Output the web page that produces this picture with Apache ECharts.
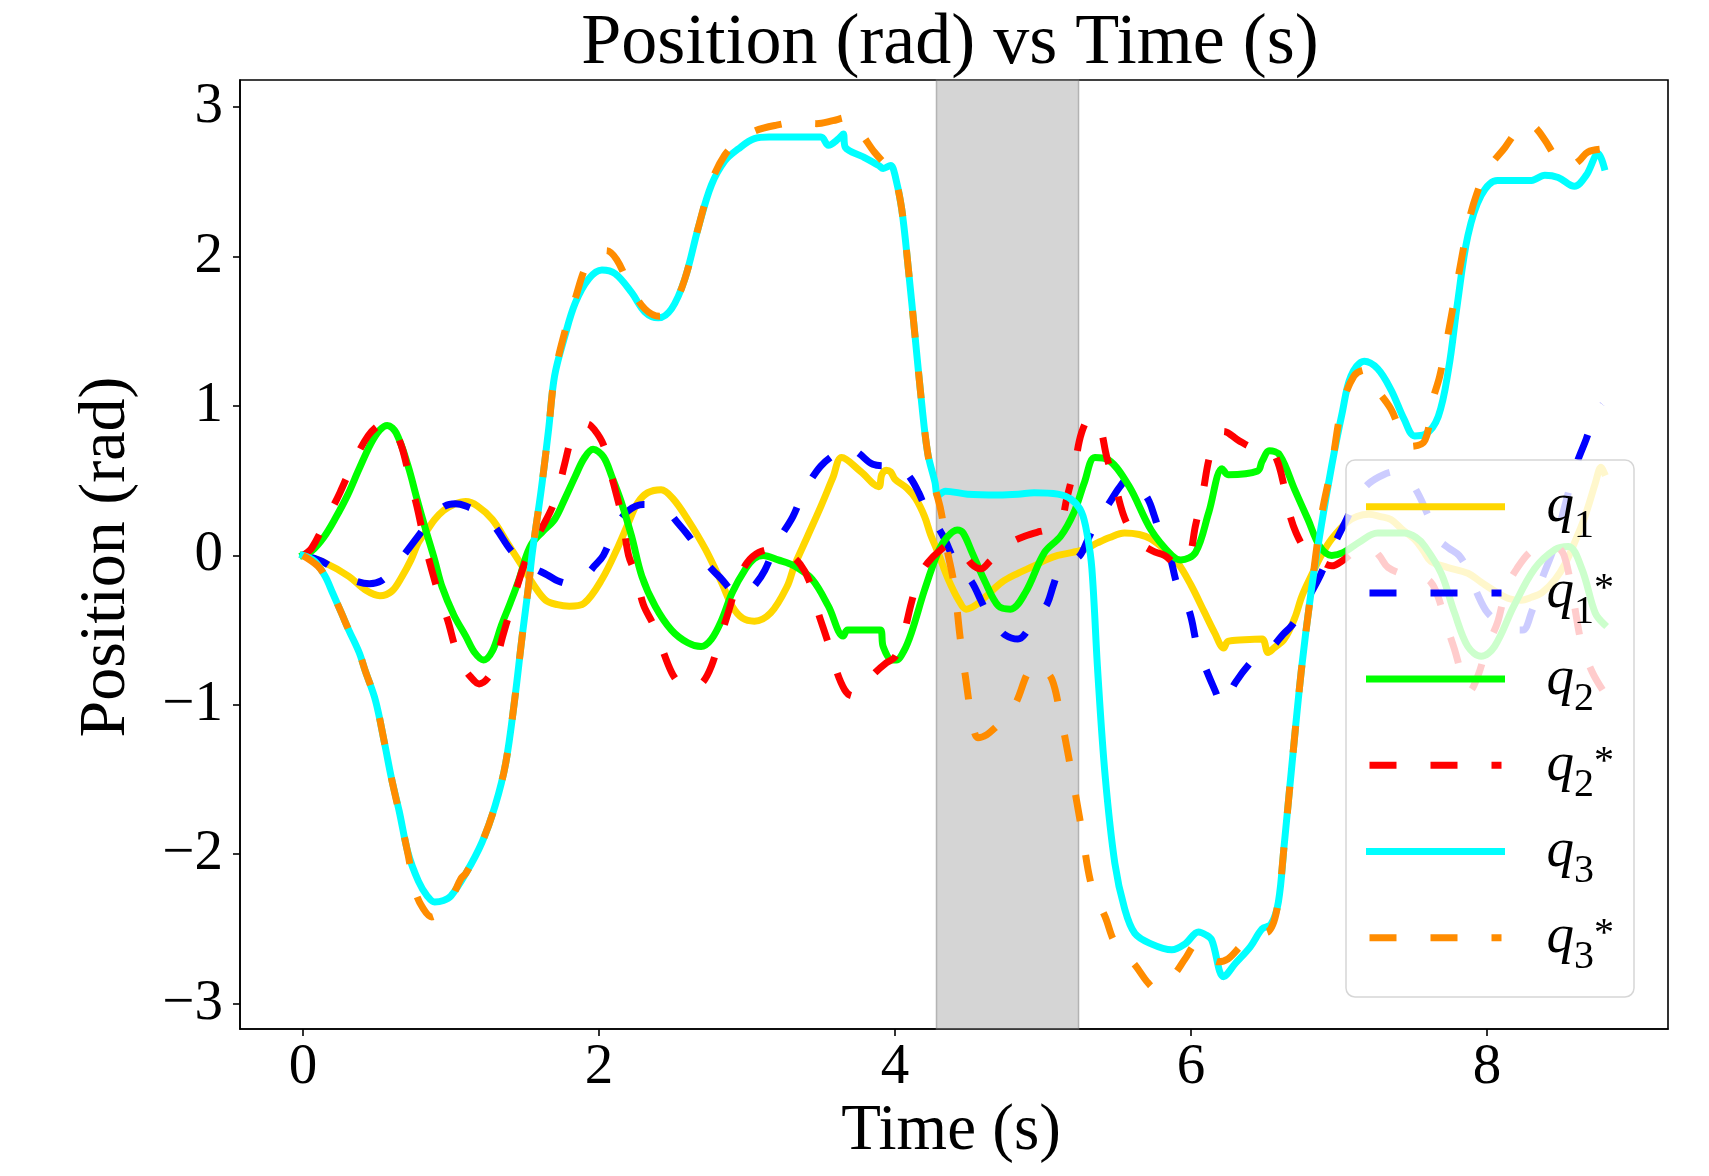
<!DOCTYPE html>
<html><head><meta charset="utf-8">
<script src="https://cdn.jsdelivr.net/npm/echarts@6/dist/echarts.min.js"></script>
<style>html,body{margin:0;padding:0;background:#fff}#c{width:1709px;height:1176px}</style>
</head><body><div id="c"></div>
<script>
const xTicks = [0, 2, 4, 6, 8];
const yTicks = [-3, -2, -1, 0, 1, 2, 3];
const shadeStart = 4.28, shadeEnd = 5.24;
const seriesNames = ['q1', 'q1*', 'q2', 'q2*', 'q3', 'q3*'];

const q1 = [[0,0],[0.15,-0.05],[0.31,-0.14],[0.42,-0.23],[0.52,-0.27],[0.6,-0.24],[0.67,-0.14],[0.73,-0.03],[0.78,0.085],[0.84,0.17],[0.89,0.24],[0.95,0.3],[1.02,0.34],[1.1,0.36],[1.18,0.33],[1.28,0.24],[1.38,0.085],[1.48,-0.07],[1.56,-0.2],[1.64,-0.3],[1.72,-0.33],[1.8,-0.34],[1.9,-0.32],[2.02,-0.16],[2.13,0.06],[2.2,0.22],[2.26,0.35],[2.33,0.42],[2.42,0.44],[2.5,0.38],[2.6,0.24],[2.72,0.04],[2.83,-0.185],[2.9,-0.34],[2.97,-0.42],[3.05,-0.44],[3.16,-0.385],[3.27,-0.21],[3.32,-0.07],[3.41,0.13],[3.5,0.33],[3.58,0.52],[3.64,0.655],[3.77,0.56],[3.89,0.46],[3.91,0.54],[3.94,0.57],[3.97,0.56],[4.0,0.51],[4.08,0.45],[4.14,0.38],[4.2,0.26],[4.24,0.14],[4.29,0.02],[4.36,-0.16],[4.43,-0.3],[4.48,-0.36],[4.55,-0.33],[4.63,-0.26],[4.72,-0.18],[4.83,-0.12],[4.94,-0.07],[5.02,-0.03],[5.1,0],[5.2,0.02],[5.28,0.04],[5.37,0.085],[5.45,0.12],[5.55,0.15],[5.65,0.14],[5.73,0.11],[5.82,0.04],[5.91,-0.05],[6.0,-0.2],[6.09,-0.38],[6.16,-0.52],[6.22,-0.62],[6.25,-0.575],[6.36,-0.565],[6.48,-0.56],[6.52,-0.65],[6.56,-0.62],[6.63,-0.56],[6.7,-0.42],[6.75,-0.27],[6.82,-0.12],[6.88,0],[6.95,0.11],[7.05,0.22],[7.12,0.26],[7.2,0.275],[7.28,0.26],[7.35,0.24],[7.43,0.17],[7.51,0.107],[7.57,0.03],[7.62,-0.04],[7.73,-0.08],[7.87,-0.12],[7.96,-0.18],[8.07,-0.25],[8.15,-0.29],[8.23,-0.3],[8.3,-0.28],[8.37,-0.25],[8.46,-0.16],[8.53,-0.05],[8.6,0.107],[8.65,0.23],[8.69,0.35],[8.73,0.48],[8.77,0.59],[8.79,0.555]];

const q1Ref = [[0,0],[0.13,-0.04],[0.25,-0.12],[0.35,-0.17],[0.45,-0.19],[0.53,-0.17],[0.6,-0.1],[0.68,0.0],[0.78,0.13],[0.87,0.25],[0.96,0.33],[1.03,0.345],[1.1,0.33],[1.2,0.28],[1.29,0.2],[1.4,0.04],[1.48,-0.04],[1.57,-0.09],[1.65,-0.13],[1.72,-0.17],[1.8,-0.19],[1.86,-0.18],[1.91,-0.14],[1.97,-0.07],[2.03,0.0],[2.12,0.2],[2.2,0.3],[2.3,0.34],[2.4,0.33],[2.46,0.3],[2.53,0.22],[2.59,0.15],[2.65,0.07],[2.71,-0.03],[2.77,-0.1],[2.83,-0.16],[2.9,-0.24],[2.96,-0.27],[3.0,-0.25],[3.06,-0.19],[3.12,-0.1],[3.2,0.08],[3.31,0.26],[3.38,0.42],[3.44,0.52],[3.5,0.6],[3.57,0.66],[3.64,0.7],[3.69,0.73],[3.76,0.68],[3.85,0.61],[3.93,0.6],[3.99,0.62],[4.05,0.58],[4.11,0.51],[4.16,0.42],[4.21,0.31],[4.27,0.22],[4.33,0.12],[4.4,-0.03],[4.45,-0.1],[4.52,-0.18],[4.58,-0.3],[4.63,-0.4],[4.69,-0.47],[4.74,-0.53],[4.83,-0.56],[4.92,-0.47],[4.97,-0.41],[5.03,-0.32],[5.07,-0.2],[5.11,-0.1],[5.18,-0.05],[5.25,0.0],[5.3,0.1],[5.35,0.2],[5.45,0.355],[5.52,0.46],[5.58,0.52],[5.64,0.47],[5.71,0.375],[5.75,0.27],[5.79,0.15],[5.85,0.02],[5.91,-0.21],[5.99,-0.38],[6.04,-0.6],[6.1,-0.76],[6.16,-0.9],[6.21,-1.0],[6.3,-0.85],[6.4,-0.72],[6.48,-0.65],[6.55,-0.61],[6.62,-0.53],[6.68,-0.47],[6.74,-0.38],[6.8,-0.27],[6.86,-0.16],[6.91,-0.05],[6.96,0.06],[7.04,0.22],[7.12,0.38],[7.2,0.48],[7.3,0.54],[7.38,0.56],[7.46,0.52],[7.53,0.42],[7.6,0.27],[7.67,0.11],[7.74,0.05],[7.81,0.0],[7.87,-0.1],[7.94,-0.27],[8.0,-0.38],[8.08,-0.45],[8.16,-0.5],[8.24,-0.5],[8.3,-0.38],[8.37,-0.16],[8.45,0.05],[8.53,0.35],[8.6,0.6],[8.67,0.78],[8.72,0.92],[8.78,1.01]];

const q2 = [[0,0],[0.06,0.03],[0.14,0.12],[0.22,0.25],[0.3,0.4],[0.38,0.58],[0.46,0.75],[0.52,0.84],[0.57,0.87],[0.63,0.82],[0.71,0.6],[0.77,0.38],[0.83,0.17],[0.89,-0.03],[0.94,-0.21],[1.02,-0.4],[1.1,-0.54],[1.16,-0.65],[1.22,-0.7],[1.28,-0.64],[1.34,-0.47],[1.4,-0.32],[1.46,-0.16],[1.51,0.0],[1.55,0.085],[1.62,0.16],[1.7,0.24],[1.77,0.38],[1.84,0.53],[1.9,0.65],[1.96,0.71],[2.03,0.66],[2.09,0.52],[2.15,0.36],[2.22,0.13],[2.29,-0.14],[2.38,-0.34],[2.49,-0.5],[2.6,-0.585],[2.69,-0.61],[2.76,-0.56],[2.83,-0.43],[2.9,-0.25],[2.99,-0.09],[3.05,-0.02],[3.11,0.0],[3.21,-0.03],[3.32,-0.07],[3.44,-0.16],[3.55,-0.34],[3.65,-0.54],[3.68,-0.5],[3.9,-0.5],[3.92,-0.61],[3.98,-0.7],[4.01,-0.7],[4.06,-0.64],[4.11,-0.52],[4.2,-0.23],[4.29,0.02],[4.35,0.12],[4.42,0.17],[4.46,0.15],[4.52,0.02],[4.61,-0.18],[4.7,-0.34],[4.78,-0.36],[4.88,-0.25],[5.01,0.02],[5.12,0.13],[5.21,0.29],[5.28,0.49],[5.35,0.655],[5.44,0.64],[5.58,0.465],[5.73,0.17],[5.87,0.0],[5.93,-0.03],[6.03,0.02],[6.12,0.29],[6.21,0.58],[6.25,0.54],[6.45,0.565],[6.48,0.63],[6.53,0.7],[6.6,0.67],[6.7,0.44],[6.79,0.24],[6.87,0.06],[6.95,0.0],[7.03,0.02],[7.13,0.085],[7.26,0.15],[7.44,0.15],[7.52,0.12],[7.58,0.06],[7.69,-0.12],[7.78,-0.385],[7.87,-0.61],[7.96,-0.675],[8.05,-0.61],[8.18,-0.34],[8.32,-0.09],[8.46,0.04],[8.55,0.06],[8.64,-0.09],[8.73,-0.385],[8.79,-0.46]];

const q2Ref = [[0,0],[0.06,0.05],[0.15,0.22],[0.25,0.42],[0.35,0.64],[0.44,0.8],[0.51,0.87],[0.56,0.89],[0.62,0.83],[0.67,0.72],[0.72,0.52],[0.77,0.33],[0.82,0.1],[0.86,-0.06],[0.93,-0.3],[0.98,-0.44],[1.03,-0.62],[1.08,-0.74],[1.13,-0.81],[1.19,-0.86],[1.25,-0.82],[1.3,-0.72],[1.35,-0.54],[1.4,-0.37],[1.45,-0.2],[1.5,-0.05],[1.58,0.12],[1.67,0.29],[1.72,0.42],[1.77,0.62],[1.82,0.8],[1.87,0.86],[1.92,0.88],[1.97,0.84],[2.03,0.74],[2.08,0.55],[2.12,0.4],[2.16,0.24],[2.2,0.0],[2.25,-0.13],[2.3,-0.33],[2.37,-0.47],[2.44,-0.66],[2.5,-0.8],[2.56,-0.87],[2.63,-0.89],[2.7,-0.85],[2.76,-0.74],[2.82,-0.55],[2.88,-0.36],[2.94,-0.17],[3.0,-0.05],[3.08,0.02],[3.18,0.04],[3.28,0.01],[3.36,-0.06],[3.42,-0.17],[3.48,-0.38],[3.54,-0.56],[3.6,-0.76],[3.66,-0.9],[3.71,-0.94],[3.78,-0.88],[3.86,-0.79],[3.94,-0.72],[4.0,-0.68],[4.06,-0.52],[4.11,-0.32],[4.16,-0.15],[4.22,-0.05],[4.3,0.03],[4.38,0.08],[4.42,0.07],[4.46,0.02],[4.52,-0.06],[4.58,-0.09],[4.64,-0.04],[4.71,0.03],[4.78,0.085],[4.88,0.13],[4.98,0.16],[5.06,0.18],[5.12,0.22],[5.16,0.38],[5.21,0.58],[5.26,0.82],[5.32,0.92],[5.38,0.87],[5.43,0.66],[5.48,0.5],[5.54,0.28],[5.6,0.15],[5.66,0.08],[5.74,0.03],[5.82,0.0],[5.91,-0.06],[5.98,-0.03],[6.03,0.2],[6.08,0.42],[6.12,0.64],[6.17,0.79],[6.22,0.83],[6.32,0.77],[6.42,0.72],[6.53,0.71],[6.58,0.64],[6.62,0.5],[6.66,0.3],[6.71,0.15],[6.78,0.03],[6.86,-0.03],[6.95,-0.07],[7.03,-0.03],[7.12,0.04],[7.2,0.06],[7.27,0.0],[7.33,-0.08],[7.45,-0.13],[7.55,-0.14],[7.62,-0.18],[7.67,-0.28],[7.72,-0.45],[7.78,-0.63],[7.83,-0.8],[7.88,-0.91],[7.94,-0.8],[8.0,-0.61],[8.07,-0.45],[8.13,-0.22],[8.2,-0.09],[8.3,0.03],[8.4,0.06],[8.46,0.06],[8.52,0.0],[8.58,-0.28],[8.64,-0.6],[8.71,-0.78],[8.78,-0.9]];

const q3 = [[0,0],[0.08,-0.04],[0.15,-0.14],[0.2,-0.25],[0.26,-0.385],[0.31,-0.5],[0.38,-0.65],[0.42,-0.77],[0.49,-0.97],[0.55,-1.25],[0.6,-1.5],[0.65,-1.71],[0.71,-1.99],[0.78,-2.18],[0.84,-2.28],[0.89,-2.32],[0.95,-2.31],[1.0,-2.28],[1.1,-2.13],[1.21,-1.92],[1.3,-1.67],[1.37,-1.39],[1.43,-0.97],[1.48,-0.55],[1.525,-0.2],[1.55,0.02],[1.61,0.44],[1.66,0.845],[1.7,1.2],[1.77,1.47],[1.84,1.69],[1.93,1.85],[2.02,1.91],[2.11,1.885],[2.22,1.76],[2.31,1.63],[2.4,1.59],[2.49,1.65],[2.58,1.85],[2.67,2.19],[2.76,2.48],[2.85,2.64],[2.94,2.72],[3.05,2.79],[3.15,2.8],[3.3,2.8],[3.5,2.8],[3.55,2.745],[3.62,2.79],[3.65,2.82],[3.665,2.73],[3.78,2.67],[3.89,2.61],[3.92,2.59],[3.97,2.61],[4.0,2.545],[4.045,2.32],[4.09,1.92],[4.135,1.47],[4.18,1.02],[4.22,0.69],[4.27,0.49],[4.29,0.4],[4.34,0.43],[4.49,0.41],[4.7,0.405],[4.83,0.41],[4.94,0.42],[5.1,0.41],[5.19,0.375],[5.26,0.29],[5.3,0.13],[5.33,-0.09],[5.37,-0.785],[5.42,-1.48],[5.485,-2.06],[5.55,-2.36],[5.62,-2.53],[5.73,-2.6],[5.87,-2.64],[5.96,-2.6],[6.05,-2.52],[6.1,-2.54],[6.14,-2.575],[6.22,-2.82],[6.3,-2.73],[6.4,-2.62],[6.48,-2.5],[6.54,-2.47],[6.59,-2.32],[6.63,-1.93],[6.68,-1.415],[6.745,-0.77],[6.81,-0.25],[6.88,0.2],[6.95,0.6],[7.02,0.95],[7.08,1.2],[7.17,1.3],[7.26,1.25],[7.35,1.11],[7.44,0.91],[7.51,0.8],[7.58,0.81],[7.67,0.93],[7.74,1.25],[7.8,1.69],[7.87,2.14],[7.96,2.41],[8.07,2.51],[8.2,2.51],[8.3,2.51],[8.39,2.545],[8.48,2.53],[8.59,2.47],[8.67,2.545],[8.75,2.69],[8.79,2.6]];

const q3Ref = [[0,0],[0.1,-0.07],[0.15,-0.14],[0.2,-0.25],[0.26,-0.385],[0.31,-0.5],[0.38,-0.65],[0.42,-0.77],[0.49,-0.97],[0.55,-1.25],[0.6,-1.5],[0.65,-1.72],[0.71,-2.0],[0.76,-2.25],[0.81,-2.36],[0.87,-2.42],[0.93,-2.38],[1.0,-2.3],[1.07,-2.16],[1.1,-2.13],[1.21,-1.92],[1.3,-1.67],[1.37,-1.39],[1.43,-0.97],[1.48,-0.55],[1.525,-0.2],[1.55,0.02],[1.61,0.44],[1.66,0.845],[1.7,1.2],[1.77,1.5],[1.84,1.72],[1.91,1.93],[1.98,2.02],[2.05,2.04],[2.12,1.98],[2.21,1.8],[2.31,1.65],[2.41,1.6],[2.49,1.65],[2.58,1.85],[2.67,2.19],[2.76,2.5],[2.85,2.68],[2.94,2.77],[3.05,2.84],[3.2,2.88],[3.35,2.9],[3.47,2.89],[3.58,2.91],[3.67,2.93],[3.76,2.84],[3.86,2.7],[3.95,2.6],[4.0,2.52],[4.045,2.32],[4.09,1.92],[4.135,1.47],[4.18,1.02],[4.22,0.69],[4.26,0.49],[4.31,0.3],[4.35,0.05],[4.4,-0.2],[4.44,-0.55],[4.48,-0.84],[4.52,-1.1],[4.56,-1.22],[4.62,-1.2],[4.68,-1.15],[4.75,-1.08],[4.82,-0.98],[4.89,-0.8],[4.94,-0.73],[5.0,-0.76],[5.06,-0.83],[5.11,-1.03],[5.19,-1.44],[5.26,-1.83],[5.33,-2.22],[5.42,-2.42],[5.49,-2.6],[5.62,-2.74],[5.7,-2.85],[5.76,-2.9],[5.82,-2.86],[5.89,-2.8],[5.96,-2.7],[6.04,-2.6],[6.1,-2.64],[6.18,-2.72],[6.25,-2.7],[6.35,-2.6],[6.45,-2.53],[6.52,-2.52],[6.58,-2.37],[6.63,-1.93],[6.68,-1.415],[6.745,-0.77],[6.81,-0.25],[6.88,0.26],[6.95,0.6],[7.02,1.0],[7.1,1.2],[7.17,1.24],[7.24,1.13],[7.35,0.98],[7.42,0.82],[7.49,0.73],[7.58,0.77],[7.63,1.03],[7.68,1.2],[7.73,1.45],[7.78,1.72],[7.83,2.0],[7.88,2.25],[7.93,2.42],[8.0,2.58],[8.12,2.73],[8.2,2.84],[8.27,2.9],[8.33,2.86],[8.39,2.78],[8.47,2.66],[8.55,2.6],[8.62,2.64],[8.68,2.7],[8.78,2.72]];

const legendLabels = {
  'q1': '{q|q}{s|1}', 'q1*': '{q|q}{s|1}{p|*}',
  'q2': '{q|q}{s|2}', 'q2*': '{q|q}{s|2}{p|*}',
  'q3': '{q|q}{s|3}', 'q3*': '{q|q}{s|3}{p|*}'
};
const FONT = '"Liberation Serif", "Times New Roman", serif';
const fmtNum = v => (v < 0 ? '\u2212' + Math.abs(v) : String(v));
const LW = 7;

function mk(name, data, color, dashed) {
  return {
    name, type: 'line', data, symbol: 'none', showSymbol: false,
    smooth: 0.35, clip: true, z: 3,
    lineStyle: { color, width: LW, type: dashed ? [27, 34] : 'solid', cap: dashed ? 'butt' : 'square', join: 'round' },
    itemStyle: { color }, emphasis: { disabled: true }, silent: true
  };
}

const series = [
  mk(seriesNames[0], q1, '#FFD700', false),
  mk(seriesNames[1], q1Ref, '#0000FF', true),
  mk(seriesNames[2], q2, '#00FF00', false),
  mk(seriesNames[3], q2Ref, '#FF0000', true),
  mk(seriesNames[4], q3, '#00FFFF', false),
  mk(seriesNames[5], q3Ref, '#FF8C00', true)
];
series[0].markArea = {
  silent: true, z: 1,
  itemStyle: { color: 'rgba(128,128,128,0.33)', borderColor: 'rgba(128,128,128,0.5)', borderWidth: 1.5 },
  data: [[{ xAxis: shadeStart }, { xAxis: shadeEnd }]]
};

const chart = echarts.init(document.getElementById('c'), null, { renderer: 'canvas' });
chart.setOption({
  animation: false,
  backgroundColor: '#fff',
  grid: { left: 240, top: 80, right: 41, bottom: 147, show: true, borderColor: '#000', borderWidth: 1.6, backgroundColor: 'transparent' },
  xAxis: {
    type: 'value', min: -0.425, max: 9.222, splitLine: { show: false },
    axisLine: { show: true, onZero: false, lineStyle: { color: '#000', width: 1.6 } },
    axisTick: { show: true, customValues: xTicks, length: 7, lineStyle: { color: '#000', width: 1.6 } },
    axisLabel: { customValues: xTicks, margin: 11, color: '#000', fontFamily: FONT, fontSize: 57, formatter: fmtNum }
  },
  yAxis: {
    type: 'value', min: -3.17, max: 3.182, splitLine: { show: false },
    axisLine: { show: true, onZero: false, lineStyle: { color: '#000', width: 1.6 } },
    axisTick: { show: true, customValues: yTicks, length: 7, lineStyle: { color: '#000', width: 1.6 } },
    axisLabel: { customValues: yTicks, margin: 17, color: '#000', fontFamily: FONT, fontSize: 57, formatter: fmtNum }
  },
  legend: {
    z: 20, zlevel: 0,
    orient: 'vertical', left: 1366, top: 466.7, padding: 0,
    itemWidth: 132, itemHeight: 20, itemGap: 6.2,
    selectedMode: false,
    itemStyle: { opacity: 0 },
    lineStyle: { width: LW },
    data: seriesNames,
    formatter: n => legendLabels[n],
    textStyle: {
      color: '#000',
      rich: {
        q: { fontFamily: FONT, fontStyle: 'italic', fontSize: 55, lineHeight: 70, padding: [0, 0, 0, 40], color: '#000' },
        s: { fontFamily: FONT, fontSize: 40, lineHeight: 30, padding: [40, 0, 0, 0], color: '#000' },
        p: { fontFamily: FONT, fontSize: 40, lineHeight: 30, padding: [0, 0, 6, 0], color: '#000' }
      }
    }
  },
  graphic: {
    z: 10, zlevel: 0,
    elements: [
      { type: 'rect', z: 10, silent: true,
        shape: { x: 1346, y: 460, width: 288, height: 537, r: 9 },
        style: { fill: 'rgba(255,255,255,0.8)', stroke: 'rgba(204,204,204,0.8)', lineWidth: 1.5 } },
      { type: 'text', x: 950, y: 44.5, silent: true,
        style: { text: 'Position (rad) vs Time (s)', font: '72px ' + FONT, fill: '#000', align: 'center', verticalAlign: 'middle' } },
      { type: 'text', x: 951, y: 1132, silent: true,
        style: { text: 'Time (s)', font: '65px ' + FONT, fill: '#000', align: 'center', verticalAlign: 'middle' } },
      { type: 'text', x: 106.6, y: 557, rotation: Math.PI / 2, silent: true,
        style: { text: 'Position (rad)', font: '66px ' + FONT, fill: '#000', align: 'center', verticalAlign: 'middle' } }
    ]
  },
  series
});
</script></body></html>
